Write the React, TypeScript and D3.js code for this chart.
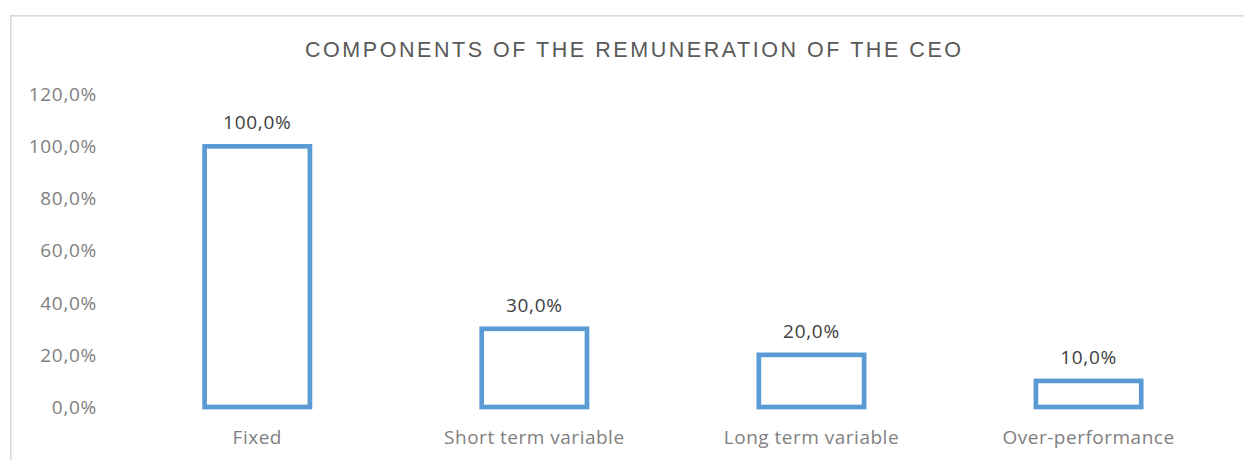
import { scaleBand, scaleLinear, format } from "d3"

const categories = ["Fixed", "Short term variable", "Long term variable", "Over-performance"]
const values = [1.0, 0.3, 0.2, 0.1]
const yTickValues = [0, 0.2, 0.4, 0.6, 0.8, 1.0, 1.2]
const title = "COMPONENTS OF THE REMUNERATION OF THE CEO"

const W = 1244, H = 460
const FONT = "'Open Sans', sans-serif"

const pct = (v: number) => format(".1%")(v).replace(".", ",")

export default function App() {
  const x = scaleBand<string>()
    .domain(categories)
    .range([118.7, 1227.1])
    .paddingInner(0.62)
    .paddingOuter(0.31)
  const y = scaleLinear().domain([0, 1.2]).range([407, 94.2])

  return (
    <div style={{ position: "fixed", left: 0, top: 0 }}>
      <svg width={W} height={H} style={{ display: "block", background: "#fff" }}>
        {/* chart frame */}
        <rect x={10.8} y={15.8} width={W + 20} height={H + 20}
          fill="#fff" stroke="#d9d9d9" strokeWidth={1.5} />

        <text x={305} y={57} fill="#595959"
          fontFamily="'Liberation Sans', Arial, sans-serif" fontSize={21.5}
          textLength={656} lengthAdjust="spacing">
          {title}
        </text>

        {/* y axis labels */}
        {yTickValues.map(t => (
          <text key={t} x={97} y={y(t)} dy="0.36em" textAnchor="end"
            fill="#7f7f7f" fontFamily={FONT} fontSize={19} letterSpacing={0.7}>{pct(t)}</text>
        ))}

        {/* bars */}
        {categories.map((c, i) => (
          <g key={c}>
            <rect x={x(c)!} y={y(values[i])} width={x.bandwidth()} height={y(0) - y(values[i])}
              fill="#fff" stroke="#5b9bd5" strokeWidth={4.7} />
            <text x={x(c)! + x.bandwidth() / 2} y={y(values[i]) - 17} textAnchor="middle"
              fill="#404040" fontFamily={FONT} fontSize={19} letterSpacing={0.7}>{pct(values[i])}</text>
            <text x={x(c)! + x.bandwidth() / 2} y={443.5} textAnchor="middle"
              fill="#7f7f7f" fontFamily={FONT} fontSize={19} letterSpacing={0.5}>{c}</text>
          </g>
        ))}
      </svg>
    </div>
  )
}
